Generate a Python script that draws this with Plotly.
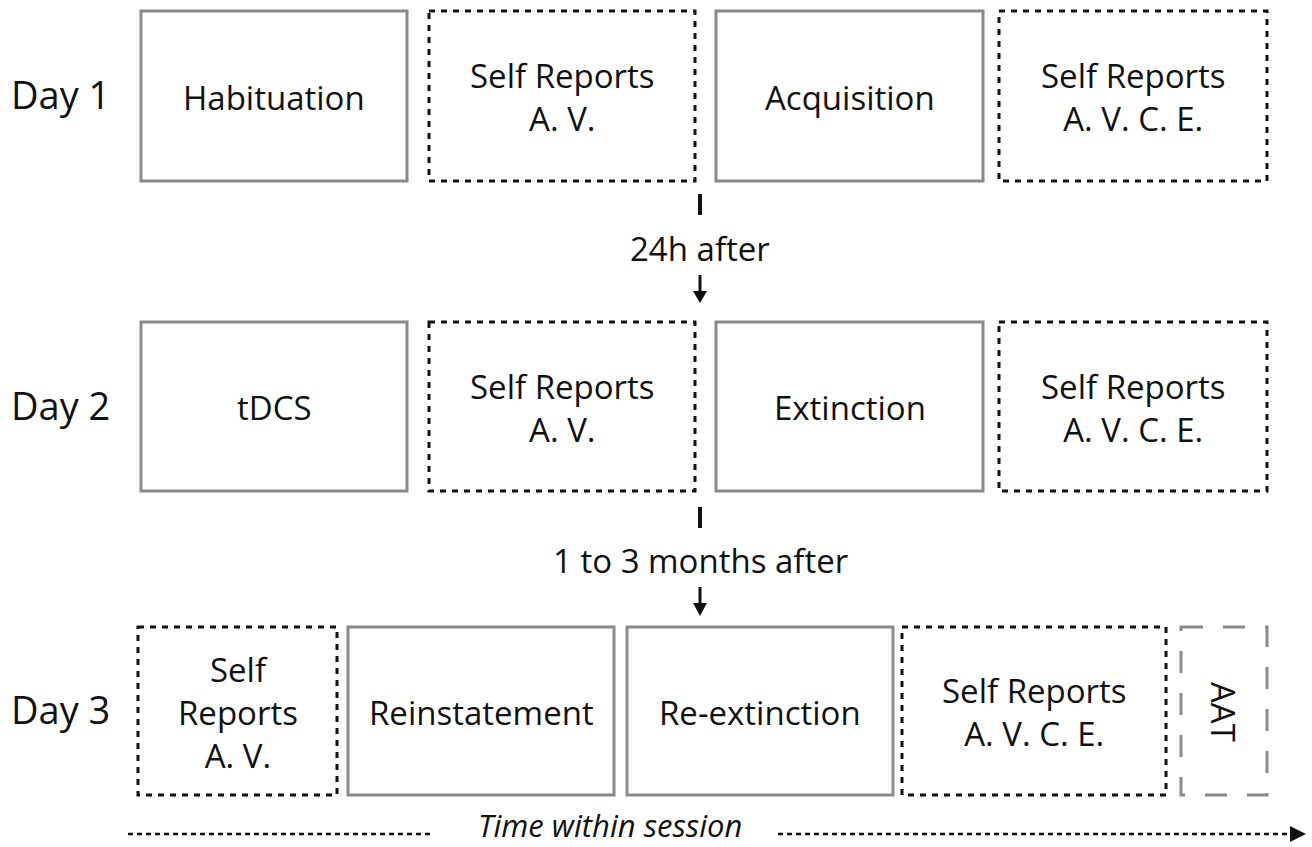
import plotly.graph_objects as go

# ---- data ----
days = ["Day 1", "Day 2", "Day 3"]
day1_steps = ["Habituation", "Self Reports\nA. V.", "Acquisition", "Self Reports\nA. V. C. E."]
day1_kinds = ["task", "report", "task", "report"]
day2_steps = ["tDCS", "Self Reports\nA. V.", "Extinction", "Self Reports\nA. V. C. E."]
day2_kinds = ["task", "report", "task", "report"]
day3_steps = ["Self\nReports\nA. V.", "Reinstatement", "Re-extinction", "Self Reports\nA. V. C. E.", "AAT"]
day3_kinds = ["report", "task", "task", "report", "optional"]
gaps = ["24h after", "1 to 3 months after"]
time_label = "Time within session"

# ---- layout (pixel space) ----
W, H = 1312, 847
row_y = [(11, 181), (322, 491), (627, 795)]
row_x = [
    [(141, 407), (429, 695), (716, 983), (999, 1267)],
    [(141, 407), (429, 695), (716, 983), (999, 1267)],
    [(138, 337), (348, 614), (627, 893), (902, 1166), (1181, 1267)],
]
styles = {
    "task": dict(color="#8a8a8a", width=3, dash="solid"),
    "report": dict(color="#111111", width=3, dash="6px,6px"),
    "optional": dict(color="#8a8a8a", width=3, dash="22px,20px"),
}
FONT = "Open Sans"
fs_box = 33
fs_day = 38

fig = go.Figure()
shapes, annotations = [], []

all_steps = [day1_steps, day2_steps, day3_steps]
all_kinds = [day1_kinds, day2_kinds, day3_kinds]
for r, day in enumerate(days):
    y0, y1 = row_y[r]
    yc = (y0 + y1) / 2
    annotations.append(dict(x=60, y=yc - 2, text=day, showarrow=False,
                            font=dict(family=FONT, size=fs_day, color="#111")))
    for (x0, x1), label, kind in zip(row_x[r], all_steps[r], all_kinds[r]):
        shapes.append(dict(type="rect", x0=x0, x1=x1, y0=y0, y1=y1,
                           line=styles[kind], fillcolor="rgba(0,0,0,0)"))
        xc = (x0 + x1) / 2
        annotations.append(dict(x=xc, y=yc + 1, text=label.replace("\n", "<br>"),
                                showarrow=False, textangle=90 if kind == "optional" else 0,
                                font=dict(family=FONT, size=fs_box, color="#111")))

# connectors between days
conn = [(194, 215, 248, 275, 291, 303), (507, 528, 560, 587, 603, 616)]
for (b0, b1, ty, s0, h0, tip), txt in zip(conn, gaps):
    shapes.append(dict(type="line", x0=700, x1=700, y0=b0, y1=b1,
                       line=dict(color="#111", width=4)))
    shapes.append(dict(type="line", x0=700, x1=700, y0=s0, y1=h0 + 1,
                       line=dict(color="#111", width=3)))
    shapes.append(dict(type="path", path=f"M 693 {h0} L 707 {h0} L 700 {tip} Z",
                       fillcolor="#111", line=dict(width=0)))
    annotations.append(dict(x=700, y=ty, text=txt, showarrow=False,
                            font=dict(family=FONT, size=fs_box, color="#111")))

# time axis
ty = 834
shapes.append(dict(type="line", x0=128, x1=432, y0=ty, y1=ty,
                   line=dict(color="#111", width=2.5, dash="5px,4px")))
shapes.append(dict(type="line", x0=778, x1=1291, y0=ty, y1=ty,
                   line=dict(color="#111", width=2.5, dash="5px,4px")))
shapes.append(dict(type="path", path=f"M 1290 {ty-8} L 1290 {ty+8} L 1306 {ty} Z",
                   fillcolor="#111", line=dict(width=0)))
annotations.append(dict(x=610, y=H, yanchor="bottom", borderpad=0,
                        text=f"<i>{time_label}</i>", showarrow=False,
                        font=dict(family=FONT, size=fs_box - 2, color="#111")))

for s in shapes:
    s.update(xref="x", yref="y", layer="above")
for a in annotations:
    a.update(xref="x", yref="y")

fig.update_layout(
    width=W, height=H, margin=dict(l=0, r=0, t=0, b=0),
    paper_bgcolor="white", plot_bgcolor="white",
    xaxis=dict(range=[0, W], visible=False, fixedrange=True),
    yaxis=dict(range=[H, 0], visible=False, fixedrange=True),
    shapes=shapes, annotations=annotations, showlegend=False,
)
fig.write_html("out.html", config={"displayModeBar": False},
               post_script="document.body.style.margin='0px';document.body.style.overflow='hidden';")
